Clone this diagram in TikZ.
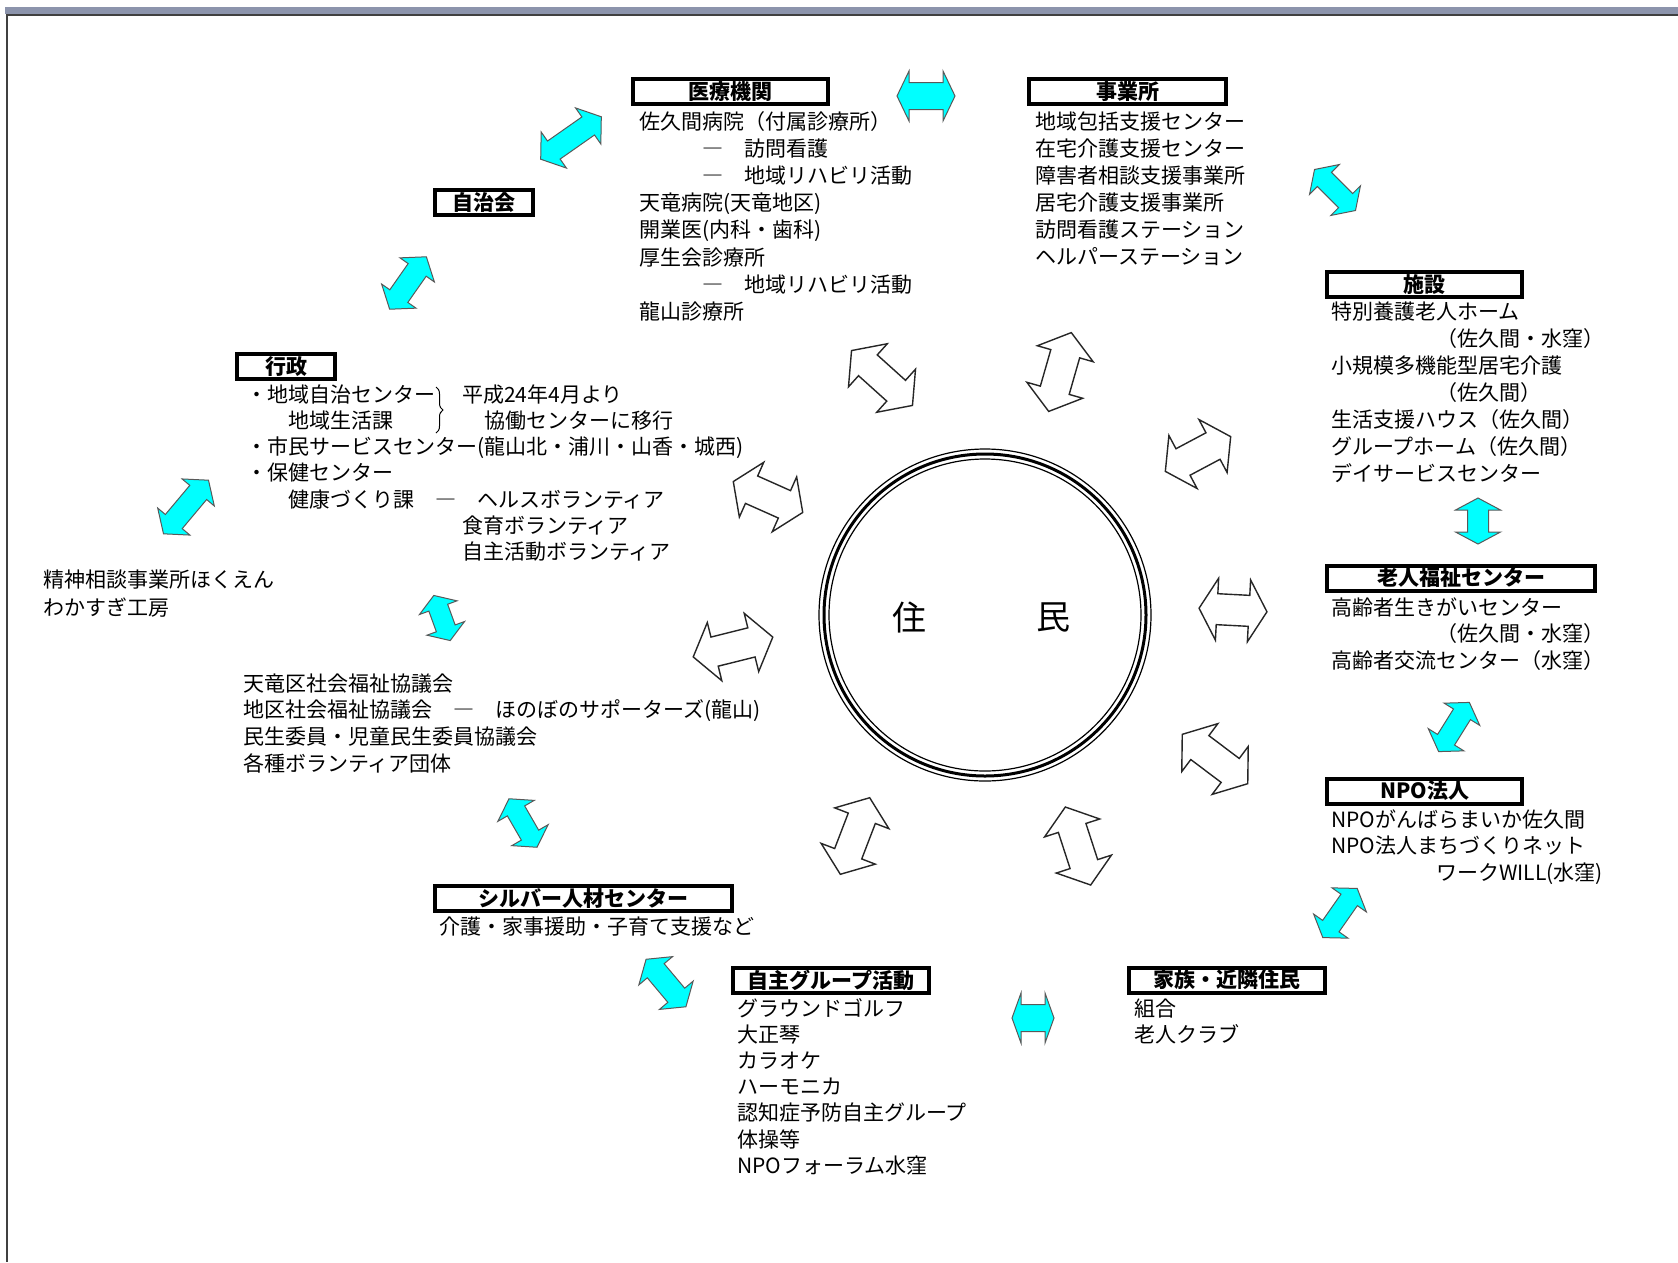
\documentclass[tikz,border=0pt]{standalone}
\usepackage{fontspec}
\setmainfont{Noto Sans CJK JP}
\usetikzlibrary{decorations.pathreplacing}
\definecolor{barcol}{RGB}{140,148,172}
\definecolor{aqua}{RGB}{0,255,255}
\tikzset{
  txt/.style={inner sep=0, anchor=base west, font=\fontsize{21}{27}\selectfont},
  hdr/.style={draw, line width=4, inner sep=0, minimum height=25, font=\fontsize{21}{27}\selectfont\bfseries},
  cyanarrow/.style={fill=aqua, draw=black!65, line width=1},
  whitearrow/.style={fill=white, draw=black!85, line width=1.4},
  pics/dbl/.style args={#1/#2/#3/#4}{code={
    \path[pic actions] ({-(#1)/2},0) -- ({-(#1)/2+(#4)},{(#3)/2}) -- ({-(#1)/2+(#4)},{(#2)/2})
      -- ({(#1)/2-(#4)},{(#2)/2}) -- ({(#1)/2-(#4)},{(#3)/2}) -- ({(#1)/2},0)
      -- ({(#1)/2-(#4)},{-(#3)/2}) -- ({(#1)/2-(#4)},{-(#2)/2}) -- ({-(#1)/2+(#4)},{-(#2)/2})
      -- ({-(#1)/2+(#4)},{-(#3)/2}) -- cycle;
  }}
}
\newcommand\txtblock[5]{%
  \foreach \ln [count=\i] in {#5} {
    \node[txt] (#1-\i) at (#2, {#3+(\i-1)*#4}) {\ln};
  }%
}
\begin{document}
\begin{tikzpicture}[x=1pt,y=-1pt]
\useasboundingbox (0,0) rectangle (1678,1262);
\fill[white] (0,0) rectangle (1678,1262);
% frame
\fill[barcol] (5,7) rectangle (1678,14);
\draw[black!75, line width=2] (7,15) -- (1678,15);
\draw[black!75, line width=2.5] (7,14) -- (7,1262);

% centre circle
\node[circle, minimum size=332, inner sep=0] (jumin) at (985,615) {};
\draw[line width=1.2] (jumin.center) circle (166);
\draw[line width=3] (jumin.center) circle (161);
\draw[line width=1.2] (jumin.center) circle (156);
\node[font=\fontsize{34}{34}\selectfont, inner sep=0] (ju) at (909,617) {住};
\node[font=\fontsize{34}{34}\selectfont, inner sep=0] (min) at (1053,617) {民};

% header boxes
\node[hdr, minimum width=195] (iryo) at (730.5,91.5) {医療機関};
\node[hdr, minimum width=197] (jigyo) at (1127.5,91.5) {事業所};
\node[hdr, minimum width=98] (jichi) at (484,202) {自治会};
\node[hdr, minimum width=98] (gyosei) at (286,366.5) {行政};
\node[hdr, minimum width=195] (shisetsu) at (1424.5,284.5) {施設};
\node[hdr, minimum width=268] (rojin) at (1461,578) {老人福祉センター};
\node[hdr, minimum width=195] (npo) at (1424.5,791) {NPO法人};
\node[hdr, minimum width=297] (silver) at (583.5,898.5) {シルバー人材センター};
\node[hdr, minimum width=196] (jishu) at (831,980) {自主グループ活動};
\node[hdr, minimum width=196] (kazoku) at (1227,980) {家族・近隣住民};

% text blocks
\txtblock{iryoT}{639}{129}{27.2}{佐久間病院（付属診療所）,　　　―　訪問看護,　　　―　地域リハビリ活動,天竜病院(天竜地区),開業医(内科・歯科),厚生会診療所,　　　―　地域リハビリ活動,龍山診療所}
\txtblock{jigyoT}{1035}{129}{27.0}{地域包括支援センター,在宅介護支援センター,障害者相談支援事業所,居宅介護支援事業所,訪問看護ステーション,ヘルパーステーション}
\txtblock{shisetsuT}{1331}{319}{27.0}{特別養護老人ホーム,　　　　　（佐久間・水窪）,小規模多機能型居宅介護,　　　　　（佐久間）,生活支援ハウス（佐久間）,グループホーム（佐久間）,デイサービスセンター}
\txtblock{rojinT}{1331}{615}{26.5}{高齢者生きがいセンター,　　　　　（佐久間・水窪）,高齢者交流センター（水窪）}
\txtblock{npoT}{1331}{827}{26.5}{NPOがんばらまいか佐久間,NPO法人まちづくりネット,　　　　　ワークWILL(水窪)}
\txtblock{kazokuT}{1134}{1016}{26.5}{組合,老人クラブ}
\txtblock{jishuT}{737}{1016}{26.2}{グラウンドゴルフ,大正琴,カラオケ,ハーモニカ,認知症予防自主グループ,体操等,NPOフォーラム水窪}
\txtblock{silverT}{439}{934}{26.5}{介護・家事援助・子育て支援など}
\txtblock{shakyoT}{243}{691}{26.7}{天竜区社会福祉協議会,地区社会福祉協議会　―　ほのぼのサポーターズ(龍山),民生委員・児童民生委員協議会,各種ボランティア団体}
\txtblock{seishinT}{43}{587}{28}{精神相談事業所ほくえん,わかすぎ工房}
\txtblock{gyoseiT}{246}{402}{26.3}{・地域自治センター,　　地域生活課,・市民サービスセンター(龍山北・浦川・山香・城西),・保健センター,　　健康づくり課　―　ヘルスボランティア}
\node[txt] (note1) at (462,402) {平成24年4月より};
\node[txt] (note2) at (484,428.3) {協働センターに移行};
\txtblock{volT}{462}{533.5}{26.3}{食育ボランティア,自主活動ボランティア}
\draw[line width=1, decorate, decoration={brace, amplitude=7}] (436,387) -- (436,433);

% cyan arrows (between outer groups)
\pic[cyanarrow, rotate=35] at (571,138) {dbl=74/22/44/16};
\pic[cyanarrow, rotate=0] at (926,96) {dbl=58/27/50/12};
\pic[cyanarrow, rotate=-45] at (1335,190) {dbl=58/20/42/14};
\pic[cyanarrow, rotate=90] at (1478,521) {dbl=46/21/45/12};
\pic[cyanarrow, rotate=58] at (1454,727) {dbl=58/20/42/14};
\pic[cyanarrow, rotate=55] at (1340,913) {dbl=60/20/42/14};
\pic[cyanarrow, rotate=0] at (1033,1018) {dbl=42/27/50/9};
\pic[cyanarrow, rotate=-50] at (666,983) {dbl=62/22/44/15};
\pic[cyanarrow, rotate=-60] at (523,823) {dbl=56/20/42/14};
\pic[cyanarrow, rotate=-70] at (442,618) {dbl=48/20/40/13};
\pic[cyanarrow, rotate=50] at (186,507) {dbl=70/22/42/16};
\pic[cyanarrow, rotate=55] at (408,283) {dbl=64/22/42/16};

% white arrows (around the circle)
\pic[whitearrow, rotate=-42] at (882,378) {dbl=82/28/58/22};
\pic[whitearrow, rotate=74] at (1060,372) {dbl=82/30/58/22};
\pic[whitearrow, rotate=28] at (1198,454) {dbl=74/30/60/20};
\pic[whitearrow, rotate=-3] at (1233,610) {dbl=68/31/62/18};
\pic[whitearrow, rotate=-37] at (1215,759) {dbl=82/30/60/22};
\pic[whitearrow, rotate=-72] at (1078,846) {dbl=82/29/58/22};
\pic[whitearrow, rotate=69] at (855,836) {dbl=82/29/58/22};
\pic[whitearrow, rotate=14] at (733,647) {dbl=82/30/60/22};
\pic[whitearrow, rotate=-24] at (768,497) {dbl=76/30/60/20};
\end{tikzpicture}
\end{document}
